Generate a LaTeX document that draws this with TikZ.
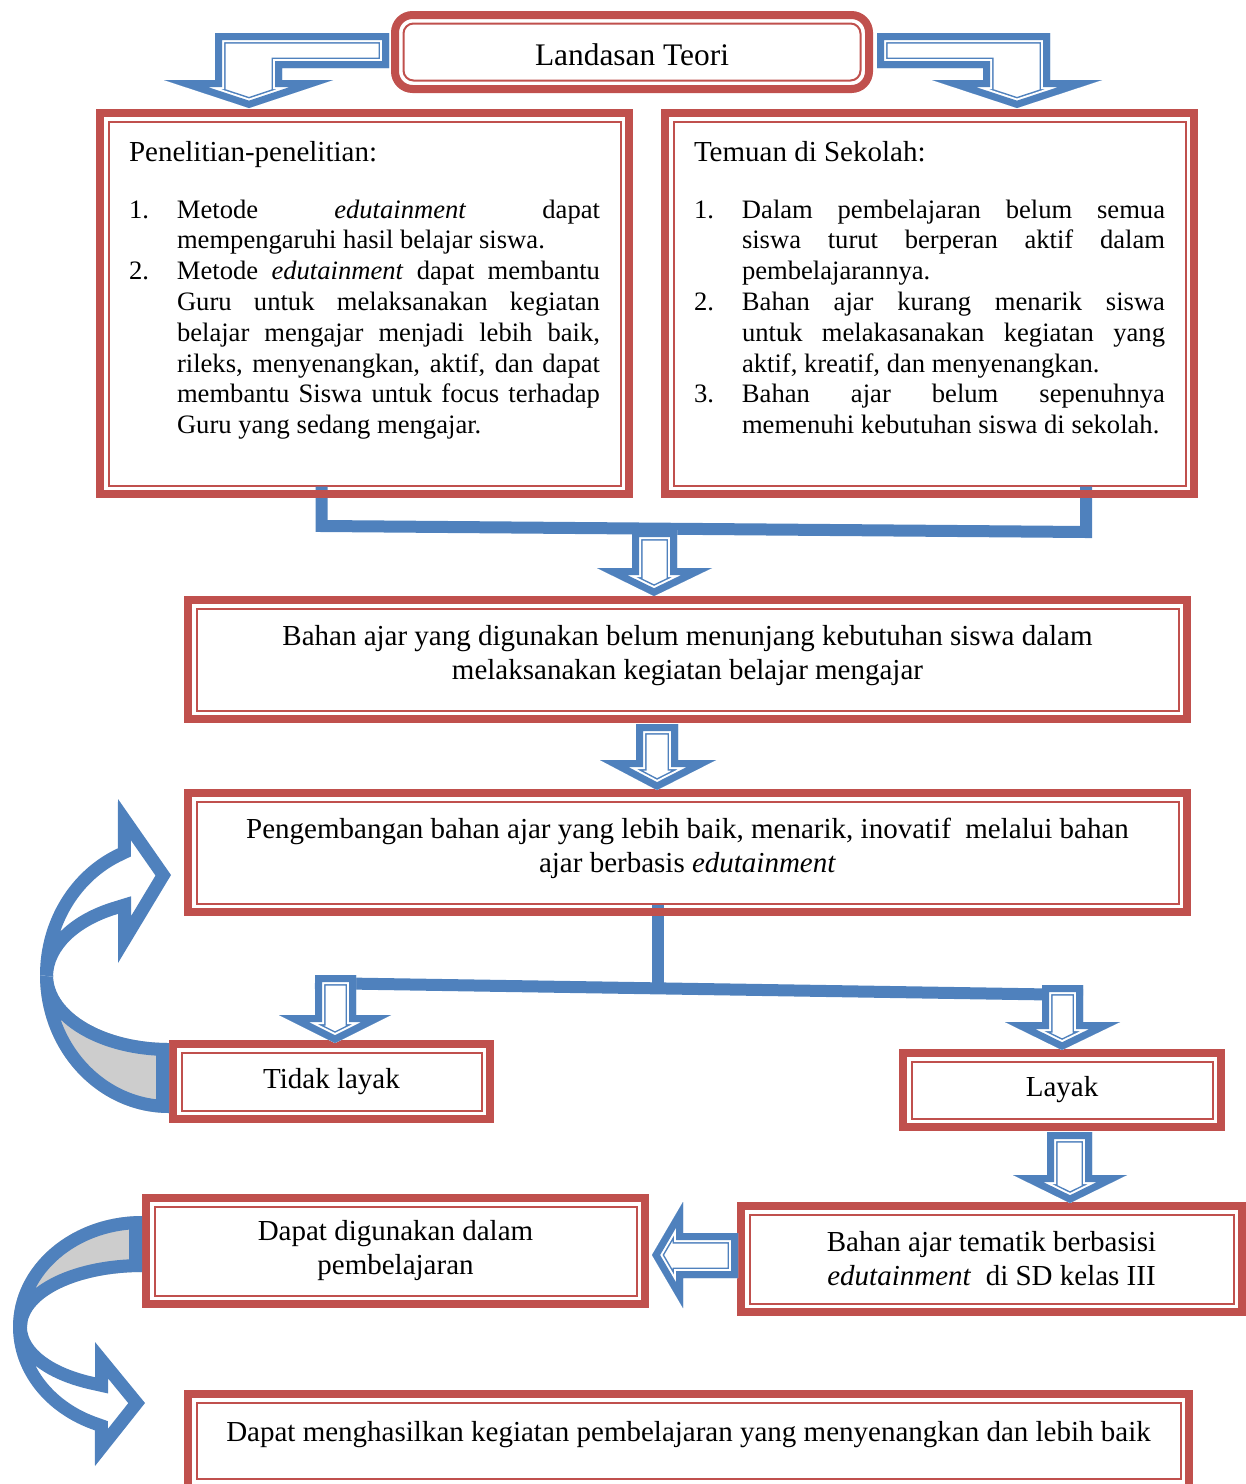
\documentclass[tikz,border=0pt]{standalone}
\usepackage{fontspec}
\setmainfont{Liberation Serif}

\definecolor{merah}{RGB}{192,80,77}
\definecolor{biru}{RGB}{79,129,189}
\definecolor{abu}{RGB}{205,205,205}

\newcommand{\hurufjudul}{\fontsize{15.7pt}{18pt}\selectfont}
\newcommand{\hurufkotak}{\fontsize{14.5pt}{17pt}\selectfont}
\newcommand{\hurufdaftar}{\fontsize{13.3pt}{15.4pt}\selectfont}

% butir bernomor, baris berikutnya menjorok
\newcommand{\butir}[1]{\par\hangindent=24pt\hangafter=1\noindent\hbox to 24pt{#1\hfil}\ignorespaces}

% panah blok: tepi tebal, celah putih, garis tipis
\newcommand{\panah}[1]{%
\begin{scope}[line join=miter, miter limit=20]
\clip #1;
\fill[white] #1;
\draw[biru, line width=10.5pt] #1;
\draw[white, line width=9pt] #1;
\draw[biru, line width=7pt] #1;
\end{scope}}

% panah lengkung: isi #1, tepi biru di dalam bentuk
\newcommand{\lengkungan}[2]{%
\begin{scope}[line join=miter, miter limit=10]
\clip #2;
\fill[#1] #2;
\draw[biru, line width=13pt] #2;
\end{scope}}

\tikzset{
  kotak/.style={draw=merah, line width=1pt, fill=white, inner sep=0pt, align=center, font=\hurufkotak},
  bingkai/.style={draw=merah, line width=4pt},
  batang/.style={draw=biru, line width=6pt, line join=miter},
}

\begin{document}
\begin{tikzpicture}[x=0.5pt, y=-0.5pt]
\useasboundingbox (0,0) rectangle (1246,1484);

% kotak
\node[kotak, rounded corners=5pt, minimum width=228.5pt, minimum height=28.5pt, font=\hurufjudul] (landasan) at (632,52) {Landasan Teori\rule{0pt}{13.5pt}};

\node[kotak, align=left, minimum width=256pt, minimum height=182pt, inner xsep=10.25pt, inner ysep=10pt] (penelitian) at (364.5,303.5) {%
\begin{minipage}[t][162pt][t]{235.5pt}\hurufdaftar\parskip=0pt\hbadness=10000
{\hurufkotak Penelitian-penelitian:\par}\vspace{12.8pt}
\butir{1.}Metode \textit{edutainment} dapat\linebreak mempengaruhi hasil belajar siswa.
\butir{2.}Metode \textit{edutainment} dapat membantu\linebreak Guru untuk melaksanakan kegiatan\linebreak belajar mengajar menjadi lebih baik,\linebreak rileks, menyenangkan, aktif, dan dapat\linebreak membantu Siswa untuk focus terhadap\linebreak Guru yang sedang mengajar.\par
\end{minipage}};

\node[kotak, align=left, minimum width=256pt, minimum height=182pt, inner xsep=10.25pt, inner ysep=10pt] (temuan) at (929.5,303.5) {%
\begin{minipage}[t][162pt][t]{235.5pt}\hurufdaftar\parskip=0pt\hbadness=10000
{\hurufkotak Temuan di Sekolah:\par}\vspace{12.8pt}
\butir{1.}Dalam pembelajaran belum semua\linebreak siswa turut berperan aktif dalam\linebreak pembelajarannya.
\butir{2.}Bahan ajar kurang menarik siswa\linebreak untuk melakasanakan kegiatan yang\linebreak aktif, kreatif, dan menyenangkan.
\butir{3.}Bahan ajar belum sepenuhnya\linebreak memenuhi kebutuhan siswa di sekolah.\par
\end{minipage}};

\node[kotak, minimum width=491pt, minimum height=51pt] (masalah) at (687.5,659.5) {Bahan ajar yang digunakan belum menunjang kebutuhan siswa dalam\\melaksanakan kegiatan belajar mengajar\rule[-7.4pt]{0pt}{0pt}};
\node[kotak, minimum width=491pt, minimum height=51pt] (pengembangan) at (687.5,852.5) {Pengembangan bahan ajar yang lebih baik, menarik, inovatif\ \ melalui bahan\\ajar berbasis \textit{edutainment}\rule[-6.9pt]{0pt}{0pt}};
\node[kotak, minimum width=150pt, minimum height=29pt] (tidak) at (331.5,1081.5) {Tidak layak};
\node[kotak, minimum width=150.5pt, minimum height=28.5pt] (layak) at (1062,1090) {Layak};
\node[kotak, minimum width=242pt, minimum height=44.5pt] (tematik) at (991.5,1259) {Bahan ajar tematik berbasisi\\\textit{edutainment}\ \ di SD kelas III};
\node[kotak, minimum width=241pt, minimum height=44.5pt] (digunakan) at (395.5,1251) {Dapat digunakan dalam\\pembelajaran};
\node[kotak, minimum width=492pt, minimum height=38.25pt] (hasil) at (688.5,1440.75) {Dapat menghasilkan kegiatan pembelajaran yang menyenangkan dan lebih baik\rule[-8.9pt]{0pt}{0pt}};

% batang penghubung
\coordinate (sambungkiri) at (321.5,526);
\coordinate (sambungkanan) at (1086,532);
\draw[batang] ([xshift=-21.5pt]penelitian.south) -- (sambungkiri) -- (sambungkanan) -- ([xshift=78.25pt]temuan.south);
\coordinate (cabang) at (658,988);
\coordinate (cabangkiri) at (315,983);
\coordinate (cabangkanan) at (1083,995);
\draw[batang] ([xshift=-14.75pt]pengembangan.south) -- (cabang);
\draw[batang] (cabangkiri) -- (cabangkanan);

% bingkai tebal
\draw[bingkai, rounded corners=8.75pt] ([shift={(-3.75pt,3.75pt)}]landasan.north west) rectangle ([shift={(3.75pt,-3.75pt)}]landasan.south east);
\foreach \nama in {penelitian,temuan,masalah,pengembangan,tidak,layak,tematik,digunakan,hasil}
  \draw[bingkai] ([shift={(-3.75pt,3.75pt)}]\nama.north west) rectangle ([shift={(3.75pt,-3.75pt)}]\nama.south east);

% panah blok
\panah{(389,33) -- (215,33) -- (215,80) -- (164,80) -- (249,108) -- (333,80) -- (282,80) -- (282,68) -- (389,68) -- cycle}
\panah{(877,33) -- (1050,33) -- (1050,80) -- (1102,80) -- (1017,108) -- (932,80) -- (983,80) -- (983,68) -- (877,68) -- cycle}
\panah{(632,530) -- (677,530) -- (677,568) -- (712,568) -- (654,596) -- (597,568) -- (632,568) -- cycle}
\panah{(636,724) -- (678,724) -- (678,760) -- (716,760) -- (657,790) -- (600,760) -- (636,760) -- cycle}
\panah{(315,975) -- (356,975) -- (356,1015) -- (391,1015) -- (335,1043) -- (279,1015) -- (315,1015) -- cycle}
\panah{(1042,985) -- (1083,985) -- (1083,1022) -- (1120,1022) -- (1062,1050) -- (1005,1022) -- (1042,1022) -- cycle}
\panah{(1047,1132) -- (1092,1132) -- (1092,1175) -- (1127,1175) -- (1070,1203) -- (1013,1175) -- (1047,1175) -- cycle}
\panah{(738,1233) -- (683,1233) -- (683,1202) -- (652,1255) -- (683,1308) -- (683,1278) -- (738,1278) -- cycle}

% panah lengkung: tidak layak -> pengembangan
\lengkungan{abu}{(40,975) arc[start angle=180, end angle=90, x radius=129, y radius=138] -- (169,1043) arc[start angle=90, end angle=180, x radius=116, y radius=68] -- cycle}
\lengkungan{white}{(40,975) arc[start angle=180, end angle=246.7, x radius=129, y radius=138] -- (118,799) -- (171,875) -- (118,963) -- (118,913.9) arc[start angle=243.9, end angle=180, x radius=116, y radius=70] -- cycle}

% panah lengkung: digunakan -> hasil
\lengkungan{abu}{(13,1327) arc[start angle=180, end angle=270, x radius=129, y radius=111] -- (142,1272) arc[start angle=270, end angle=180, x radius=115, y radius=55] -- cycle}
\lengkungan{white}{(13,1327) arc[start angle=180, end angle=111.4, x radius=129, y radius=111] -- (95,1466) -- (145,1403) -- (95,1342) -- (95,1377.2) arc[start angle=114.1, end angle=180, x radius=115, y radius=55] -- cycle}
\end{tikzpicture}
\end{document}
